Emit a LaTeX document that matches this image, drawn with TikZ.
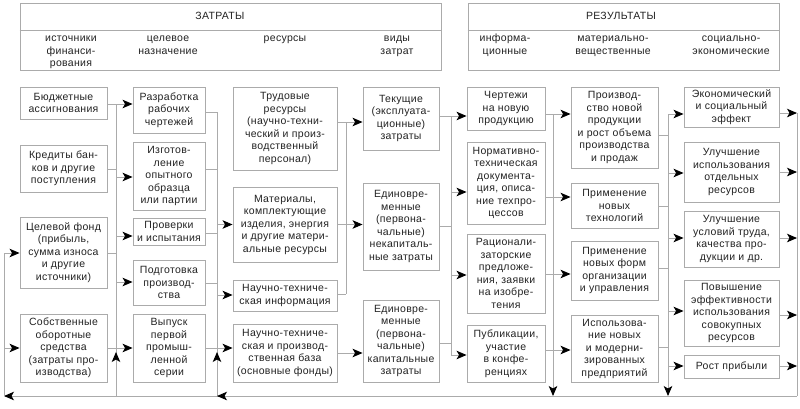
\documentclass[tikz,border=0pt]{standalone}
\usepackage{fontspec}
\setmainfont[LetterSpace=3]{Liberation Sans}
\usetikzlibrary{arrows.meta}
\definecolor{ln}{HTML}{ABABAB}
\definecolor{tx}{HTML}{222222}
\newcommand{\dfont}{\fontsize{10.5}{12.5}\selectfont}
\newcommand{\bx}[6]{\node[box, minimum width={(#4-#2)*1pt}, minimum height={(#5-#3)*1pt}] (#1) at ({(#2+#4)/2},{(#3+#5)/2}) {#6};}
\begin{document}
\begin{tikzpicture}[x=1pt,y=-1pt,
  box/.style={draw=ln, line width=0.9pt, align=center, inner sep=0pt, text=tx, font=\dfont},
  conn/.style={draw=ln, line width=0.9pt},
  arr/.style={conn, -{Stealth[length=10pt,width=8.5pt,inset=2.5pt,color=black]}},
  hd/.style={text=tx, font=\dfont, align=center, inner sep=0pt, anchor=north}
]
\useasboundingbox (0,0) rectangle (800,408);

% header boxes
\bx{zt}{20}{3}{441}{70}{}
\bx{rz}{468}{3}{779}{70}{}
\draw[conn] ([yshift=-28pt]zt.north west) -- ([yshift=-28pt]zt.north east);
\draw[conn] ([yshift=-28pt]rz.north west) -- ([yshift=-28pt]rz.north east);
\node[hd, anchor=center] (ztl) at (220,16) {ЗАТРАТЫ};
\node[hd, anchor=center] (rzl) at (621,16) {РЕЗУЛЬТАТЫ};
\node[hd] (h1) at (71,33) {\strut источники\\финанси-\\рования};
\node[hd] (h2) at (168,33) {\strut целевое\\назначение};
\node[hd] (h3) at (285,33) {\strut ресурсы};
\node[hd] (h4) at (397,33) {\strut виды\\затрат};
\node[hd] (h5) at (505,33) {\strut информа-\\ционные};
\node[hd] (h6) at (613,33) {\strut материально-\\вещественные};
\node[hd] (h7) at (731,33) {\strut социально-\\экономические};

% column 1
\bx{b11}{20}{87}{107}{119}{Бюджетные\\ассигнования}
\bx{b12}{20}{145}{107}{192}{Кредиты бан-\\ков и другие\\поступления}
\bx{b13}{20}{217}{107}{288}{Целевой фонд\\(прибыль,\\сумма износа\\и другие\\источники)}
\bx{b14}{20}{314}{107}{382}{Собственные\\оборотные\\средства\\(затраты про-\\изводства)}
% column 2
\bx{b21}{133}{87}{205}{133}{Разработка\\рабочих\\чертежей}
\bx{b22}{133}{142}{205}{210}{Изготов-\\ление\\опытного\\образца\\или партии}
\bx{b23}{133}{218}{205}{245}{Проверки\\и испытания}
\bx{b24}{133}{260}{205}{305}{Подготовка\\производ-\\ства}
\bx{b25}{133}{314}{205}{382}{Выпуск\\первой\\промыш-\\ленной\\серии}
% column 3
\bx{b31}{233}{87}{337}{170}{Трудовые\\ресурсы\\(научно-техни-\\ческий и произ-\\водственный\\персонал)}
\bx{b32}{233}{187}{337}{262}{Материалы,\\комплектующие\\изделия, энергия\\и другие матери-\\альные ресурсы}
\bx{b33}{233}{280}{337}{311}{Научно-техниче-\\ская информация}
\bx{b34}{233}{324}{337}{382}{Научно-техниче-\\ская и производ-\\ственная база\\(основные фонды)}
% column 4
\bx{b41}{363}{87}{439}{150}{Текущие\\(эксплуата-\\ционные)\\затраты}
\bx{b42}{363}{183}{439}{270}{Единовре-\\менные\\(первона-\\чальные)\\некапиталь-\\ные затраты}
\bx{b43}{363}{300}{439}{382}{Единовре-\\менные\\(первона-\\чальные)\\капитальные\\затраты}
% column 5
\bx{b51}{467}{87}{545}{130}{Чертежи\\на новую\\продукцию}
\bx{b52}{467}{142}{545}{224}{Нормативно-\\техническая\\документа-\\ция, описа-\\ние техпро-\\цессов}
\bx{b53}{467}{234}{545}{313}{Рационали-\\заторские\\предложе-\\ния, заявки\\на изобре-\\тения}
\bx{b54}{467}{325}{545}{382}{Публикации,\\участие\\в конфе-\\ренциях}
% column 6
\bx{b61}{571}{87}{658}{168}{Производ-\\ство новой\\продукции\\и рост объема\\производства\\и продаж}
\bx{b62}{571}{183}{658}{228}{Применение\\новых\\технологий}
\bx{b63}{571}{241}{658}{300}{Применение\\новых форм\\организации\\и управления}
\bx{b64}{571}{315}{658}{382}{Использова-\\ние новых\\и модерни-\\зированных\\предприятий}
% column 7
\bx{b71}{684}{87}{779}{127}{Экономический\\и социальный\\эффект}
\bx{b72}{684}{142}{779}{202}{Улучшение\\использования\\отдельных\\ресурсов}
\bx{b73}{684}{211}{779}{267}{Улучшение\\условий труда,\\качества про-\\дукции и др.}
\bx{b74}{684}{280}{779}{346}{Повышение\\эффективности\\использования\\совокупных\\ресурсов}
\bx{b75}{684}{355}{779}{378}{Рост прибыли}

% bus A
\coordinate (A1) at (116,104);
\coordinate (A2) at (116,169);
\coordinate (A2o) at (116,177);
\coordinate (A3o) at (116,236);
\coordinate (A3) at (116,253);
\coordinate (A4o) at (116,282);
\coordinate (A5) at (116,348);
\coordinate (A5u) at (116,352);
\coordinate (A6) at (116,396);
\draw[conn] (A1) -- (A6);
\draw[conn] (b11.east |- A1) -- (A1);
\draw[arr] (A1) -- (b21.west |- A1);
\draw[conn] (b12.east |- A2) -- (A2);
\draw[arr] (A2o) -- (b22.west |- A2o);
\draw[arr] (A3o) -- (b23.west |- A3o);
\draw[conn] (b13.east |- A3) -- (A3);
\draw[arr] (A4o) -- (b24.west |- A4o);
\draw[conn] (b14.east |- A5) -- (A5);
\draw[arr] (A5) -- (b25.west |- A5);
\draw[arr] (A6) -- (A5u);

% bus B
\coordinate (B1) at (217,112);
\coordinate (B2) at (217,169);
\coordinate (B3o) at (217,224.5);
\coordinate (B3) at (217,233);
\coordinate (B4) at (217,283);
\coordinate (B4o) at (217,295);
\coordinate (B5) at (217,348);
\coordinate (B5u) at (217,352);
\coordinate (B6) at (217,396);
\draw[conn] (B1) -- (B6);
\draw[conn] (b21.east |- B1) -- (B1);
\draw[conn] (b22.east |- B2) -- (B2);
\draw[arr] (B3o) -- (b32.west |- B3o);
\draw[conn] (b23.east |- B3) -- (B3);
\draw[conn] (b24.east |- B4) -- (B4);
\draw[arr] (B4o) -- (b33.west |- B4o);
\draw[conn] (b25.east |- B5) -- (B5);
\draw[arr] (B5) -- (b34.west |- B5);
\draw[arr] (B6) -- (B5u);

% bus C
\coordinate (C1) at (346,122);
\coordinate (C3) at (346,294);
\draw[conn] (C1) -- (C3);
\draw[conn] (b31.east |- C1) -- (C1);
\draw[arr] (C1) -- (b41.west |- C1);
\draw[conn] (b33.east |- C3) -- (C3);
\draw[arr] (b32.east) -- (b42.west |- b32.east);
\draw[arr] (b34.east) -- (b43.west |- b34.east);

% bus D
\coordinate (D1) at (451,116);
\coordinate (D2o) at (451,192);
\coordinate (D2) at (451,226);
\coordinate (D3o) at (451,275);
\coordinate (D4) at (451,343);
\coordinate (D4o) at (451,355);
\draw[conn] (D1) -- (D4o);
\draw[conn] (b41.east |- D1) -- (D1);
\draw[arr] (D1) -- (b51.west |- D1);
\draw[arr] (D2o) -- (b52.west |- D2o);
\draw[conn] (b42.east |- D2) -- (D2);
\draw[arr] (D3o) -- (b53.west |- D3o);
\draw[conn] (b43.east |- D4) -- (D4);
\draw[arr] (D4o) -- (b54.west |- D4o);

% bus E
\coordinate (E1) at (553,114);
\coordinate (E2) at (553,197);
\coordinate (E3) at (553,274);
\coordinate (E4) at (553,350);
\coordinate (E5) at (553,396);
\draw[arr] (E1) -- (E5);
\draw[conn] (b51.east |- E1) -- (E1);
\draw[arr] (E1) -- (b61.west |- E1);
\draw[conn] (b52.east |- E2) -- (E2);
\draw[arr] (E2) -- (b62.west |- E2);
\draw[conn] (b53.east |- E3) -- (E3);
\draw[arr] (E3) -- (b63.west |- E3);
\draw[conn] (b54.east |- E4) -- (E4);
\draw[arr] (E4) -- (b64.west |- E4);

% bus F
\coordinate (F0) at (668,114);
\coordinate (F1) at (668,135);
\coordinate (F2o) at (668,173);
\coordinate (F2) at (668,206);
\coordinate (F3o) at (668,238);
\coordinate (F3) at (668,268);
\coordinate (F4o) at (668,311);
\coordinate (F4) at (668,347);
\coordinate (F5o) at (668,366);
\coordinate (F6) at (668,396);
\draw[arr] (F0) -- (F6);
\draw[arr] (F0) -- (b71.west |- F0);
\draw[conn] (b61.east |- F1) -- (F1);
\draw[arr] (F2o) -- (b72.west |- F2o);
\draw[conn] (b62.east |- F2) -- (F2);
\draw[arr] (F3o) -- (b73.west |- F3o);
\draw[conn] (b63.east |- F3) -- (F3);
\draw[arr] (F4o) -- (b74.west |- F4o);
\draw[conn] (b64.east |- F4) -- (F4);
\draw[arr] (F5o) -- (b75.west |- F5o);

% right bus G and feedback
\coordinate (G1) at (797,113);
\coordinate (G2) at (797,172);
\coordinate (G3) at (797,238);
\coordinate (G4) at (797,315);
\coordinate (G5) at (797,366);
\coordinate (G6) at (797,396);
\coordinate (H3) at (4,253);
\coordinate (H5) at (4,348);
\coordinate (H6) at (4,396);
\draw[conn] (G1) -- (G6);
\draw[arr] (b71.east |- G1) -- (G1);
\draw[arr] (b72.east |- G2) -- (G2);
\draw[arr] (b73.east |- G3) -- (G3);
\draw[arr] (b74.east |- G4) -- (G4);
\draw[arr] (b75.east |- G5) -- (G5);
\draw[arr] (G6) -- (H6);
\draw[arr] ([xshift=30pt]B6) -- (B6);
\draw[conn] (H6) -- (H3);
\draw[arr] (H3) -- (b13.west |- H3);
\draw[arr] (H5) -- (b14.west |- H5);
\end{tikzpicture}
\end{document}
